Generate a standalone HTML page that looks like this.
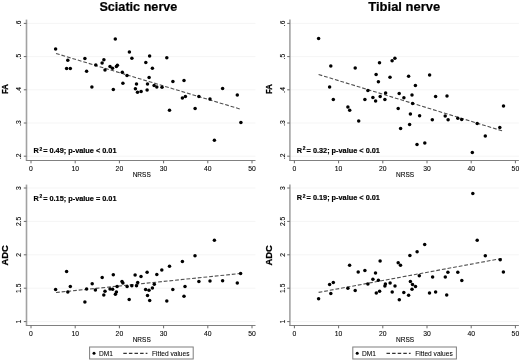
<!DOCTYPE html>
<html><head><meta charset="utf-8"><style>
html,body{margin:0;padding:0;background:#fff;}
svg{display:block;will-change:transform;}
text{font-family:"Liberation Sans",sans-serif;fill:#000;}
.tl{font-size:6.8px;fill:#000;stroke:#000;stroke-width:0.08px;}
.lg{font-size:6.6px;fill:#000;stroke:#000;stroke-width:0.06px;}
.ti{font-size:12.7px;font-weight:bold;stroke:#000;stroke-width:0.2px;}
.yt{font-size:9.8px;font-weight:bold;stroke:#000;stroke-width:0.25px;}
.r2{font-size:7.33px;font-weight:bold;stroke:#000;stroke-width:0.18px;}
.sup{font-size:4.9px;}
</style></head><body>
<svg width="520" height="361" viewBox="0 0 520 361">
<defs><filter id="soft" x="0" y="0" width="1" height="1" color-interpolation-filters="sRGB"><feGaussianBlur stdDeviation="0.3"/></filter></defs>
<rect width="520" height="361" fill="#fff"/>
<g filter="url(#soft)">
<rect width="520" height="361" fill="#fff"/>
<text x="99.4" y="10.9" class="ti" textLength="78.0" lengthAdjust="spacingAndGlyphs">Sciatic nerve</text>
<text x="368.3" y="10.9" class="ti" textLength="71.9" lengthAdjust="spacingAndGlyphs">Tibial nerve</text>
<g><line x1="26.5" y1="156.2" x2="255.5" y2="156.2" stroke="#f5f5f5" stroke-width="1"/>
<line x1="26.5" y1="123" x2="255.5" y2="123" stroke="#f5f5f5" stroke-width="1"/>
<line x1="26.5" y1="89.8" x2="255.5" y2="89.8" stroke="#f5f5f5" stroke-width="1"/>
<line x1="26.5" y1="56.6" x2="255.5" y2="56.6" stroke="#f5f5f5" stroke-width="1"/>
<line x1="26.5" y1="23.4" x2="255.5" y2="23.4" stroke="#f5f5f5" stroke-width="1"/>
<line x1="26.5" y1="19.6" x2="26.5" y2="161" stroke="#a2a2a2" stroke-width="1.6"/>
<line x1="26" y1="160.5" x2="255.5" y2="160.5" stroke="#808080" stroke-width="1"/>
<line x1="23.8" y1="156.2" x2="26.5" y2="156.2" stroke="#6a6a6a" stroke-width="1"/>
<text x="0" y="0" transform="translate(21.3 156.2) rotate(-90)" class="tl" text-anchor="middle">.2</text>
<line x1="23.8" y1="123" x2="26.5" y2="123" stroke="#6a6a6a" stroke-width="1"/>
<text x="0" y="0" transform="translate(21.3 123) rotate(-90)" class="tl" text-anchor="middle">.3</text>
<line x1="23.8" y1="89.8" x2="26.5" y2="89.8" stroke="#6a6a6a" stroke-width="1"/>
<text x="0" y="0" transform="translate(21.3 89.8) rotate(-90)" class="tl" text-anchor="middle">.4</text>
<line x1="23.8" y1="56.6" x2="26.5" y2="56.6" stroke="#6a6a6a" stroke-width="1"/>
<text x="0" y="0" transform="translate(21.3 56.6) rotate(-90)" class="tl" text-anchor="middle">.5</text>
<line x1="23.8" y1="23.4" x2="26.5" y2="23.4" stroke="#6a6a6a" stroke-width="1"/>
<text x="0" y="0" transform="translate(21.3 23.4) rotate(-90)" class="tl" text-anchor="middle">.6</text>
<line x1="31" y1="160.5" x2="31" y2="163.3" stroke="#6a6a6a" stroke-width="1"/>
<text x="31" y="170.6" class="tl" text-anchor="middle">0</text>
<line x1="75.2" y1="160.5" x2="75.2" y2="163.3" stroke="#6a6a6a" stroke-width="1"/>
<text x="75.2" y="170.6" class="tl" text-anchor="middle">10</text>
<line x1="119.4" y1="160.5" x2="119.4" y2="163.3" stroke="#6a6a6a" stroke-width="1"/>
<text x="119.4" y="170.6" class="tl" text-anchor="middle">20</text>
<line x1="163.6" y1="160.5" x2="163.6" y2="163.3" stroke="#6a6a6a" stroke-width="1"/>
<text x="163.6" y="170.6" class="tl" text-anchor="middle">30</text>
<line x1="207.8" y1="160.5" x2="207.8" y2="163.3" stroke="#6a6a6a" stroke-width="1"/>
<text x="207.8" y="170.6" class="tl" text-anchor="middle">40</text>
<line x1="252" y1="160.5" x2="252" y2="163.3" stroke="#6a6a6a" stroke-width="1"/>
<text x="252" y="170.6" class="tl" text-anchor="middle">50</text>
<text x="141.7" y="176.8" class="tl" style="font-size:6.5px" text-anchor="middle">NRSS</text>
<text x="0" y="0" transform="translate(8.3 89.1) rotate(-90)" class="yt" text-anchor="middle" textLength="10.0" lengthAdjust="spacingAndGlyphs">FA</text>
<text x="32.8" y="153.2" class="r2"><tspan dx="0.6">R</tspan><tspan class="sup" dx="0.7" dy="-2.7">2</tspan><tspan dx="-1.0" dy="2.7"> = 0.49; p-value &lt; 0.01</tspan></text>
<line x1="56" y1="53.5" x2="239.9" y2="109" stroke="#505050" stroke-width="1.1" stroke-dasharray="3.8 1.9"/></g>
<g><line x1="289.9" y1="156.2" x2="518.9" y2="156.2" stroke="#f5f5f5" stroke-width="1"/>
<line x1="289.9" y1="123" x2="518.9" y2="123" stroke="#f5f5f5" stroke-width="1"/>
<line x1="289.9" y1="89.8" x2="518.9" y2="89.8" stroke="#f5f5f5" stroke-width="1"/>
<line x1="289.9" y1="56.6" x2="518.9" y2="56.6" stroke="#f5f5f5" stroke-width="1"/>
<line x1="289.9" y1="23.4" x2="518.9" y2="23.4" stroke="#f5f5f5" stroke-width="1"/>
<line x1="289.9" y1="19.6" x2="289.9" y2="161" stroke="#a2a2a2" stroke-width="1.6"/>
<line x1="289.4" y1="160.5" x2="518.9" y2="160.5" stroke="#808080" stroke-width="1"/>
<line x1="287.2" y1="156.2" x2="289.9" y2="156.2" stroke="#6a6a6a" stroke-width="1"/>
<text x="0" y="0" transform="translate(284.7 156.2) rotate(-90)" class="tl" text-anchor="middle">.2</text>
<line x1="287.2" y1="123" x2="289.9" y2="123" stroke="#6a6a6a" stroke-width="1"/>
<text x="0" y="0" transform="translate(284.7 123) rotate(-90)" class="tl" text-anchor="middle">.3</text>
<line x1="287.2" y1="89.8" x2="289.9" y2="89.8" stroke="#6a6a6a" stroke-width="1"/>
<text x="0" y="0" transform="translate(284.7 89.8) rotate(-90)" class="tl" text-anchor="middle">.4</text>
<line x1="287.2" y1="56.6" x2="289.9" y2="56.6" stroke="#6a6a6a" stroke-width="1"/>
<text x="0" y="0" transform="translate(284.7 56.6) rotate(-90)" class="tl" text-anchor="middle">.5</text>
<line x1="287.2" y1="23.4" x2="289.9" y2="23.4" stroke="#6a6a6a" stroke-width="1"/>
<text x="0" y="0" transform="translate(284.7 23.4) rotate(-90)" class="tl" text-anchor="middle">.6</text>
<line x1="294.4" y1="160.5" x2="294.4" y2="163.3" stroke="#6a6a6a" stroke-width="1"/>
<text x="294.4" y="170.6" class="tl" text-anchor="middle">0</text>
<line x1="338.6" y1="160.5" x2="338.6" y2="163.3" stroke="#6a6a6a" stroke-width="1"/>
<text x="338.6" y="170.6" class="tl" text-anchor="middle">10</text>
<line x1="382.8" y1="160.5" x2="382.8" y2="163.3" stroke="#6a6a6a" stroke-width="1"/>
<text x="382.8" y="170.6" class="tl" text-anchor="middle">20</text>
<line x1="427" y1="160.5" x2="427" y2="163.3" stroke="#6a6a6a" stroke-width="1"/>
<text x="427" y="170.6" class="tl" text-anchor="middle">30</text>
<line x1="471.2" y1="160.5" x2="471.2" y2="163.3" stroke="#6a6a6a" stroke-width="1"/>
<text x="471.2" y="170.6" class="tl" text-anchor="middle">40</text>
<line x1="515.4" y1="160.5" x2="515.4" y2="163.3" stroke="#6a6a6a" stroke-width="1"/>
<text x="515.4" y="170.6" class="tl" text-anchor="middle">50</text>
<text x="405.1" y="176.8" class="tl" style="font-size:6.5px" text-anchor="middle">NRSS</text>
<text x="0" y="0" transform="translate(271.7 89.1) rotate(-90)" class="yt" text-anchor="middle" textLength="10.0" lengthAdjust="spacingAndGlyphs">FA</text>
<text x="296.2" y="153" class="r2"><tspan dx="0.6">R</tspan><tspan class="sup" dx="0.7" dy="-2.7">2</tspan><tspan dx="-1.0" dy="2.7"> = 0.32; p-value &lt; 0.01</tspan></text>
<line x1="318.6" y1="74.5" x2="502.4" y2="130.9" stroke="#505050" stroke-width="1.1" stroke-dasharray="3.8 1.9"/></g>
<g><line x1="26.5" y1="321.6" x2="255.5" y2="321.6" stroke="#f5f5f5" stroke-width="1"/>
<line x1="26.5" y1="288.2" x2="255.5" y2="288.2" stroke="#f5f5f5" stroke-width="1"/>
<line x1="26.5" y1="254.8" x2="255.5" y2="254.8" stroke="#f5f5f5" stroke-width="1"/>
<line x1="26.5" y1="221.4" x2="255.5" y2="221.4" stroke="#f5f5f5" stroke-width="1"/>
<line x1="26.5" y1="188" x2="255.5" y2="188" stroke="#f5f5f5" stroke-width="1"/>
<line x1="26.5" y1="184.6" x2="26.5" y2="326" stroke="#a2a2a2" stroke-width="1.6"/>
<line x1="26" y1="325.5" x2="255.5" y2="325.5" stroke="#808080" stroke-width="1"/>
<line x1="23.8" y1="321.6" x2="26.5" y2="321.6" stroke="#6a6a6a" stroke-width="1"/>
<text x="0" y="0" transform="translate(21.3 321.6) rotate(-90)" class="tl" text-anchor="middle">1</text>
<line x1="23.8" y1="288.2" x2="26.5" y2="288.2" stroke="#6a6a6a" stroke-width="1"/>
<text x="0" y="0" transform="translate(21.3 288.2) rotate(-90)" class="tl" text-anchor="middle">1.5</text>
<line x1="23.8" y1="254.8" x2="26.5" y2="254.8" stroke="#6a6a6a" stroke-width="1"/>
<text x="0" y="0" transform="translate(21.3 254.8) rotate(-90)" class="tl" text-anchor="middle">2</text>
<line x1="23.8" y1="221.4" x2="26.5" y2="221.4" stroke="#6a6a6a" stroke-width="1"/>
<text x="0" y="0" transform="translate(21.3 221.4) rotate(-90)" class="tl" text-anchor="middle">2.5</text>
<line x1="23.8" y1="188" x2="26.5" y2="188" stroke="#6a6a6a" stroke-width="1"/>
<text x="0" y="0" transform="translate(21.3 188) rotate(-90)" class="tl" text-anchor="middle">3</text>
<line x1="31" y1="325.5" x2="31" y2="328.3" stroke="#6a6a6a" stroke-width="1"/>
<text x="31" y="335.6" class="tl" text-anchor="middle">0</text>
<line x1="75.2" y1="325.5" x2="75.2" y2="328.3" stroke="#6a6a6a" stroke-width="1"/>
<text x="75.2" y="335.6" class="tl" text-anchor="middle">10</text>
<line x1="119.4" y1="325.5" x2="119.4" y2="328.3" stroke="#6a6a6a" stroke-width="1"/>
<text x="119.4" y="335.6" class="tl" text-anchor="middle">20</text>
<line x1="163.6" y1="325.5" x2="163.6" y2="328.3" stroke="#6a6a6a" stroke-width="1"/>
<text x="163.6" y="335.6" class="tl" text-anchor="middle">30</text>
<line x1="207.8" y1="325.5" x2="207.8" y2="328.3" stroke="#6a6a6a" stroke-width="1"/>
<text x="207.8" y="335.6" class="tl" text-anchor="middle">40</text>
<line x1="252" y1="325.5" x2="252" y2="328.3" stroke="#6a6a6a" stroke-width="1"/>
<text x="252" y="335.6" class="tl" text-anchor="middle">50</text>
<text x="141.7" y="341.8" class="tl" style="font-size:6.5px" text-anchor="middle">NRSS</text>
<text x="0" y="0" transform="translate(8.3 255.3) rotate(-90)" class="yt" text-anchor="middle" textLength="20.4" lengthAdjust="spacingAndGlyphs">ADC</text>
<text x="32.8" y="200.7" class="r2"><tspan dx="0.6">R</tspan><tspan class="sup" dx="0.7" dy="-2.7">2</tspan><tspan dx="-1.0" dy="2.7"> = 0.15; p-value = 0.01</tspan></text>
<line x1="56" y1="292.5" x2="240.6" y2="273.5" stroke="#505050" stroke-width="1.1" stroke-dasharray="3.8 1.9"/></g>
<g><line x1="289.9" y1="321.6" x2="518.9" y2="321.6" stroke="#f5f5f5" stroke-width="1"/>
<line x1="289.9" y1="288.2" x2="518.9" y2="288.2" stroke="#f5f5f5" stroke-width="1"/>
<line x1="289.9" y1="254.8" x2="518.9" y2="254.8" stroke="#f5f5f5" stroke-width="1"/>
<line x1="289.9" y1="221.4" x2="518.9" y2="221.4" stroke="#f5f5f5" stroke-width="1"/>
<line x1="289.9" y1="188" x2="518.9" y2="188" stroke="#f5f5f5" stroke-width="1"/>
<line x1="289.9" y1="184.6" x2="289.9" y2="326" stroke="#a2a2a2" stroke-width="1.6"/>
<line x1="289.4" y1="325.5" x2="518.9" y2="325.5" stroke="#808080" stroke-width="1"/>
<line x1="287.2" y1="321.6" x2="289.9" y2="321.6" stroke="#6a6a6a" stroke-width="1"/>
<text x="0" y="0" transform="translate(284.7 321.6) rotate(-90)" class="tl" text-anchor="middle">1</text>
<line x1="287.2" y1="288.2" x2="289.9" y2="288.2" stroke="#6a6a6a" stroke-width="1"/>
<text x="0" y="0" transform="translate(284.7 288.2) rotate(-90)" class="tl" text-anchor="middle">1.5</text>
<line x1="287.2" y1="254.8" x2="289.9" y2="254.8" stroke="#6a6a6a" stroke-width="1"/>
<text x="0" y="0" transform="translate(284.7 254.8) rotate(-90)" class="tl" text-anchor="middle">2</text>
<line x1="287.2" y1="221.4" x2="289.9" y2="221.4" stroke="#6a6a6a" stroke-width="1"/>
<text x="0" y="0" transform="translate(284.7 221.4) rotate(-90)" class="tl" text-anchor="middle">2.5</text>
<line x1="287.2" y1="188" x2="289.9" y2="188" stroke="#6a6a6a" stroke-width="1"/>
<text x="0" y="0" transform="translate(284.7 188) rotate(-90)" class="tl" text-anchor="middle">3</text>
<line x1="294.4" y1="325.5" x2="294.4" y2="328.3" stroke="#6a6a6a" stroke-width="1"/>
<text x="294.4" y="335.6" class="tl" text-anchor="middle">0</text>
<line x1="338.6" y1="325.5" x2="338.6" y2="328.3" stroke="#6a6a6a" stroke-width="1"/>
<text x="338.6" y="335.6" class="tl" text-anchor="middle">10</text>
<line x1="382.8" y1="325.5" x2="382.8" y2="328.3" stroke="#6a6a6a" stroke-width="1"/>
<text x="382.8" y="335.6" class="tl" text-anchor="middle">20</text>
<line x1="427" y1="325.5" x2="427" y2="328.3" stroke="#6a6a6a" stroke-width="1"/>
<text x="427" y="335.6" class="tl" text-anchor="middle">30</text>
<line x1="471.2" y1="325.5" x2="471.2" y2="328.3" stroke="#6a6a6a" stroke-width="1"/>
<text x="471.2" y="335.6" class="tl" text-anchor="middle">40</text>
<line x1="515.4" y1="325.5" x2="515.4" y2="328.3" stroke="#6a6a6a" stroke-width="1"/>
<text x="515.4" y="335.6" class="tl" text-anchor="middle">50</text>
<text x="405.1" y="341.8" class="tl" style="font-size:6.5px" text-anchor="middle">NRSS</text>
<text x="0" y="0" transform="translate(271.7 255.3) rotate(-90)" class="yt" text-anchor="middle" textLength="20.4" lengthAdjust="spacingAndGlyphs">ADC</text>
<text x="296.2" y="200.3" class="r2"><tspan dx="0.6">R</tspan><tspan class="sup" dx="0.7" dy="-2.7">2</tspan><tspan dx="-1.0" dy="2.7"> = 0.19; p-value &lt; 0.01</tspan></text>
<line x1="318.6" y1="292.4" x2="501.6" y2="258.5" stroke="#505050" stroke-width="1.1" stroke-dasharray="3.8 1.9"/></g>
<g fill="#000"><circle cx="55.6" cy="49.1" r="1.75"/><circle cx="67.8" cy="60.3" r="1.75"/><circle cx="66.6" cy="68.6" r="1.75"/><circle cx="70.3" cy="68.6" r="1.75"/><circle cx="84.9" cy="58.6" r="1.75"/><circle cx="86.6" cy="71.3" r="1.75"/><circle cx="91.9" cy="86.9" r="1.75"/><circle cx="95.8" cy="65.1" r="1.75"/><circle cx="102.1" cy="63.1" r="1.75"/><circle cx="103.9" cy="59.7" r="1.75"/><circle cx="105" cy="70.1" r="1.75"/><circle cx="110" cy="66.5" r="1.75"/><circle cx="112.5" cy="68.3" r="1.75"/><circle cx="116.4" cy="66.4" r="1.75"/><circle cx="117.4" cy="65.2" r="1.75"/><circle cx="115.3" cy="39.1" r="1.75"/><circle cx="122.3" cy="72.3" r="1.75"/><circle cx="127" cy="75.6" r="1.75"/><circle cx="122.9" cy="83.3" r="1.75"/><circle cx="129.4" cy="52.1" r="1.75"/><circle cx="131.9" cy="58.3" r="1.75"/><circle cx="145.8" cy="62.4" r="1.75"/><circle cx="149.6" cy="56.1" r="1.75"/><circle cx="152.4" cy="68.3" r="1.75"/><circle cx="149.1" cy="77.6" r="1.75"/><circle cx="113.3" cy="89.5" r="1.75"/><circle cx="136.5" cy="84.1" r="1.75"/><circle cx="135.4" cy="88.7" r="1.75"/><circle cx="137.5" cy="92.3" r="1.75"/><circle cx="141.1" cy="91.5" r="1.75"/><circle cx="147.5" cy="84.1" r="1.75"/><circle cx="147.1" cy="90" r="1.75"/><circle cx="154.1" cy="85.4" r="1.75"/><circle cx="156.8" cy="87.1" r="1.75"/><circle cx="162" cy="87.3" r="1.75"/><circle cx="172.9" cy="81.5" r="1.75"/><circle cx="169.5" cy="110.2" r="1.75"/><circle cx="166.8" cy="57.8" r="1.75"/><circle cx="184" cy="80.4" r="1.75"/><circle cx="182.4" cy="98.1" r="1.75"/><circle cx="185.4" cy="96.5" r="1.75"/><circle cx="198.9" cy="96.5" r="1.75"/><circle cx="210" cy="99" r="1.75"/><circle cx="222.6" cy="88.4" r="1.75"/><circle cx="237.3" cy="95" r="1.75"/><circle cx="195.1" cy="108.6" r="1.75"/><circle cx="240.9" cy="122.5" r="1.75"/><circle cx="214.4" cy="140.2" r="1.75"/><circle cx="318.6" cy="38.6" r="1.75"/><circle cx="330.8" cy="66.1" r="1.75"/><circle cx="355.2" cy="67.9" r="1.75"/><circle cx="329.6" cy="87" r="1.75"/><circle cx="333.3" cy="99.6" r="1.75"/><circle cx="347.9" cy="107" r="1.75"/><circle cx="349.7" cy="110.3" r="1.75"/><circle cx="364.9" cy="99.4" r="1.75"/><circle cx="367.9" cy="90.5" r="1.75"/><circle cx="379.5" cy="62.8" r="1.75"/><circle cx="392.1" cy="60.8" r="1.75"/><circle cx="394.9" cy="58.3" r="1.75"/><circle cx="376.1" cy="74.6" r="1.75"/><circle cx="390" cy="77.3" r="1.75"/><circle cx="408.6" cy="76.2" r="1.75"/><circle cx="429.6" cy="75" r="1.75"/><circle cx="378.4" cy="81.8" r="1.75"/><circle cx="415.4" cy="85.6" r="1.75"/><circle cx="385.6" cy="93" r="1.75"/><circle cx="399.2" cy="93.4" r="1.75"/><circle cx="412" cy="94.9" r="1.75"/><circle cx="435.6" cy="96.6" r="1.75"/><circle cx="372.9" cy="97.5" r="1.75"/><circle cx="375.6" cy="101" r="1.75"/><circle cx="380.2" cy="96.4" r="1.75"/><circle cx="384.9" cy="99.4" r="1.75"/><circle cx="403.9" cy="97.7" r="1.75"/><circle cx="412.6" cy="103.6" r="1.75"/><circle cx="398.2" cy="108.6" r="1.75"/><circle cx="410.4" cy="114.1" r="1.75"/><circle cx="419.6" cy="115.8" r="1.75"/><circle cx="432.3" cy="119.7" r="1.75"/><circle cx="409.6" cy="124.6" r="1.75"/><circle cx="447" cy="95.9" r="1.75"/><circle cx="503.5" cy="106" r="1.75"/><circle cx="445.2" cy="115.9" r="1.75"/><circle cx="448.1" cy="119.8" r="1.75"/><circle cx="457.8" cy="118.3" r="1.75"/><circle cx="461.7" cy="119.6" r="1.75"/><circle cx="477.2" cy="123.5" r="1.75"/><circle cx="499.8" cy="127.6" r="1.75"/><circle cx="485.3" cy="136.1" r="1.75"/><circle cx="424.8" cy="143" r="1.75"/><circle cx="472.3" cy="152.6" r="1.75"/><circle cx="358.7" cy="121.1" r="1.75"/><circle cx="400.6" cy="128.5" r="1.75"/><circle cx="417" cy="144.6" r="1.75"/><circle cx="55.6" cy="289.5" r="1.75"/><circle cx="66.6" cy="271.6" r="1.75"/><circle cx="70.3" cy="286.6" r="1.75"/><circle cx="67.8" cy="292.1" r="1.75"/><circle cx="84.9" cy="301.9" r="1.75"/><circle cx="86.6" cy="289.1" r="1.75"/><circle cx="92.2" cy="283.8" r="1.75"/><circle cx="95.4" cy="290" r="1.75"/><circle cx="102.2" cy="277.5" r="1.75"/><circle cx="105" cy="291.3" r="1.75"/><circle cx="103.8" cy="295" r="1.75"/><circle cx="113.3" cy="274.7" r="1.75"/><circle cx="110" cy="289.1" r="1.75"/><circle cx="112.6" cy="289.2" r="1.75"/><circle cx="117.1" cy="286.6" r="1.75"/><circle cx="122" cy="281.5" r="1.75"/><circle cx="122.9" cy="282.9" r="1.75"/><circle cx="116.4" cy="292" r="1.75"/><circle cx="115.4" cy="294.3" r="1.75"/><circle cx="127.1" cy="286.4" r="1.75"/><circle cx="131.8" cy="285.8" r="1.75"/><circle cx="129.2" cy="299.6" r="1.75"/><circle cx="135.1" cy="274.9" r="1.75"/><circle cx="141" cy="276.6" r="1.75"/><circle cx="147.1" cy="272.2" r="1.75"/><circle cx="156.8" cy="274.6" r="1.75"/><circle cx="161.8" cy="270" r="1.75"/><circle cx="169.5" cy="266.2" r="1.75"/><circle cx="136.5" cy="285.8" r="1.75"/><circle cx="137.7" cy="282.4" r="1.75"/><circle cx="145.6" cy="289.6" r="1.75"/><circle cx="149" cy="290.2" r="1.75"/><circle cx="152.4" cy="288.1" r="1.75"/><circle cx="154.3" cy="284.3" r="1.75"/><circle cx="147.5" cy="295.5" r="1.75"/><circle cx="149.7" cy="300.5" r="1.75"/><circle cx="166.8" cy="300.9" r="1.75"/><circle cx="172.8" cy="289.5" r="1.75"/><circle cx="214.4" cy="240.3" r="1.75"/><circle cx="195" cy="255.8" r="1.75"/><circle cx="182.4" cy="261.4" r="1.75"/><circle cx="240.6" cy="273.6" r="1.75"/><circle cx="198.9" cy="281.4" r="1.75"/><circle cx="210" cy="281" r="1.75"/><circle cx="222.6" cy="280.8" r="1.75"/><circle cx="237.3" cy="282.9" r="1.75"/><circle cx="185" cy="286.6" r="1.75"/><circle cx="184" cy="296.3" r="1.75"/><circle cx="318.6" cy="298.8" r="1.75"/><circle cx="329.6" cy="284.6" r="1.75"/><circle cx="333.3" cy="282.4" r="1.75"/><circle cx="330.8" cy="293.6" r="1.75"/><circle cx="347.9" cy="288.3" r="1.75"/><circle cx="349.6" cy="265.3" r="1.75"/><circle cx="355.2" cy="290.4" r="1.75"/><circle cx="358.2" cy="272.1" r="1.75"/><circle cx="364.9" cy="270.5" r="1.75"/><circle cx="367.9" cy="284.1" r="1.75"/><circle cx="409.9" cy="255.6" r="1.75"/><circle cx="380.1" cy="261" r="1.75"/><circle cx="398.2" cy="262.7" r="1.75"/><circle cx="400.5" cy="265.2" r="1.75"/><circle cx="375.5" cy="273.1" r="1.75"/><circle cx="372.9" cy="279.2" r="1.75"/><circle cx="378.4" cy="280.2" r="1.75"/><circle cx="385.4" cy="284.1" r="1.75"/><circle cx="384.9" cy="286" r="1.75"/><circle cx="390.1" cy="283.1" r="1.75"/><circle cx="395" cy="285.9" r="1.75"/><circle cx="376.3" cy="292.9" r="1.75"/><circle cx="379.6" cy="291.2" r="1.75"/><circle cx="392.2" cy="291.9" r="1.75"/><circle cx="399.3" cy="299.8" r="1.75"/><circle cx="403.8" cy="292.5" r="1.75"/><circle cx="408.6" cy="295.2" r="1.75"/><circle cx="410.4" cy="281.4" r="1.75"/><circle cx="412.5" cy="284.5" r="1.75"/><circle cx="415.5" cy="286.5" r="1.75"/><circle cx="412" cy="289.2" r="1.75"/><circle cx="419.3" cy="275.7" r="1.75"/><circle cx="424.7" cy="244.6" r="1.75"/><circle cx="417.1" cy="251.8" r="1.75"/><circle cx="472.8" cy="193.5" r="1.75"/><circle cx="477.2" cy="240.3" r="1.75"/><circle cx="485.3" cy="255.8" r="1.75"/><circle cx="500.2" cy="259.8" r="1.75"/><circle cx="503.4" cy="271.9" r="1.75"/><circle cx="432.6" cy="277" r="1.75"/><circle cx="445.3" cy="277" r="1.75"/><circle cx="447.9" cy="272.3" r="1.75"/><circle cx="457.8" cy="272.3" r="1.75"/><circle cx="461.8" cy="280.4" r="1.75"/><circle cx="429.5" cy="292.9" r="1.75"/><circle cx="435.6" cy="291.9" r="1.75"/><circle cx="446.7" cy="294.9" r="1.75"/></g>
<rect x="89.6" y="347.0" width="103.6" height="12.0" fill="#fff" stroke="#7e7e7e" stroke-width="1"/>
<circle cx="94" cy="353.3" r="1.5"/>
<text x="98.9" y="355.9" class="lg">DM1</text>
<line x1="123.3" y1="353.4" x2="147.4" y2="353.4" stroke="#333" stroke-width="1.1" stroke-dasharray="3.5 2.1"/>
<text x="152.1" y="355.9" class="lg">Fitted values</text>
<rect x="352.8" y="347.0" width="103.6" height="12.0" fill="#fff" stroke="#7e7e7e" stroke-width="1"/>
<circle cx="357.2" cy="353.3" r="1.5"/>
<text x="362.1" y="355.9" class="lg">DM1</text>
<line x1="386.5" y1="353.4" x2="410.6" y2="353.4" stroke="#333" stroke-width="1.1" stroke-dasharray="3.5 2.1"/>
<text x="415.3" y="355.9" class="lg">Fitted values</text>
</g>
</svg>
</body></html>
